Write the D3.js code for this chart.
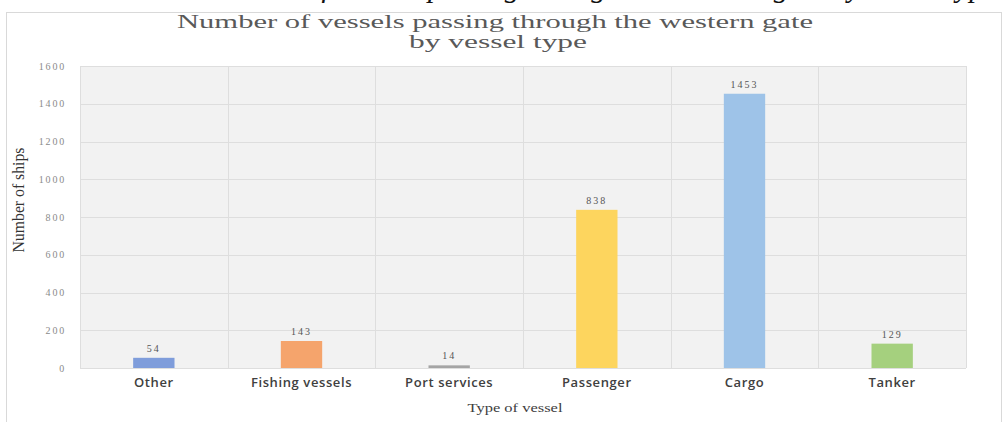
<!DOCTYPE html>
<html>
<head>
<meta charset="utf-8">
<script src="https://cdn.jsdelivr.net/npm/d3@7"></script>
<style>
  body { margin: 0; background: #fff; }
  svg { display: block; }
</style>
</head>
<body>
<div id="chart"></div>
<script>
// chart data
const vesselTypes = ["Other", "Fishing vessels", "Port services", "Passenger", "Cargo", "Tanker"];
const shipCounts = [54, 143, 14, 838, 1453, 129];
const barColors = ["#7f9ddb", "#f5a46c", "#a5a5a5", "#fdd55e", "#9ec3e8", "#a5d07e"];
const yTicks = [0, 200, 400, 600, 800, 1000, 1200, 1400, 1600];

const W = 1007, H = 422;
const plot = { left: 80, right: 966, top: 66, bottom: 368 };

const svg = d3.select("#chart").append("svg")
    .attr("width", W)
    .attr("height", H);

// page caption, mostly cut off at the top like in the scan
svg.append("text")
    .attr("x", 600)
    .attr("y", -3)
    .attr("text-anchor", "middle")
    .style("font-family", "'Liberation Serif', serif")
    .style("font-style", "italic")
    .style("font-size", "30px")
    .style("fill", "#111")
    .text("Number of vessels passing through the western gate by vessel type");

// outer frame
svg.append("rect")
    .attr("x", 6.5).attr("y", 12.5)
    .attr("width", 995).attr("height", 420)
    .attr("fill", "none")
    .attr("stroke", "#d9d9d9");

// scales
const x = d3.scaleBand()
    .domain(vesselTypes)
    .range([plot.left, plot.right])
    .padding(0);

const y = d3.scaleLinear()
    .domain([0, 1600])
    .range([plot.bottom, plot.top]);

// plot background
svg.append("rect")
    .attr("x", plot.left).attr("y", plot.top)
    .attr("width", plot.right - plot.left)
    .attr("height", plot.bottom - plot.top)
    .attr("fill", "#f2f2f2");

// horizontal gridlines
svg.append("g")
    .selectAll("line")
    .data(yTicks)
    .join("line")
    .attr("x1", plot.left).attr("x2", plot.right)
    .attr("y1", d => Math.round(y(d)) + 0.5)
    .attr("y2", d => Math.round(y(d)) + 0.5)
    .attr("stroke", "#dedede");

// vertical category separators
const edges = vesselTypes.map(d => x(d)).concat([plot.right]);
svg.append("g")
    .selectAll("line")
    .data(edges)
    .join("line")
    .attr("x1", d => Math.round(d) + 0.5).attr("x2", d => Math.round(d) + 0.5)
    .attr("y1", plot.top).attr("y2", plot.bottom)
    .attr("stroke", "#dedede");

// y axis labels
const yAxis = svg.append("g")
    .attr("transform", "translate(" + (plot.left - 14) + ",0)")
    .call(d3.axisLeft(y).tickValues(yTicks).tickFormat(d3.format("d")).tickSize(0).tickPadding(0));
yAxis.select(".domain").remove();
yAxis.selectAll("text")
    .style("font-family", "'Liberation Serif', serif")
    .style("font-size", "10px")
    .style("letter-spacing", "1.8px")
    .style("fill", "#8a8a8a");

// x axis labels
const xAxis = svg.append("g")
    .attr("transform", "translate(0," + plot.bottom + ")")
    .call(d3.axisBottom(x).tickSize(0).tickPadding(10));
xAxis.select(".domain").remove();
xAxis.selectAll("text")
    .style("font-family", "'Open Sans', sans-serif")
    .style("font-size", "13px")
    .style("font-weight", "600")
    .style("letter-spacing", "0.6px")
    .style("fill", "#404040");

// bars
const barW = x.bandwidth() * 0.28;
svg.append("g")
    .selectAll("rect")
    .data(vesselTypes)
    .join("rect")
    .attr("x", d => x(d) + (x.bandwidth() - barW) / 2)
    .attr("y", (d, i) => y(shipCounts[i]))
    .attr("width", barW)
    .attr("height", (d, i) => y(0) - y(shipCounts[i]))
    .attr("fill", (d, i) => barColors[i]);

// value labels
svg.append("g")
    .selectAll("text")
    .data(vesselTypes)
    .join("text")
    .attr("x", d => x(d) + x.bandwidth() / 2)
    .attr("y", (d, i) => y(shipCounts[i]) - 6)
    .attr("text-anchor", "middle")
    .style("font-family", "'Liberation Serif', serif")
    .style("font-size", "10px")
    .style("letter-spacing", "2px")
    .style("fill", "#555")
    .text((d, i) => shipCounts[i]);

// chart title (stretched wide in the source)
svg.append("text")
    .attr("x", 495).attr("y", 28)
    .attr("text-anchor", "middle")
    .attr("textLength", 636)
    .attr("lengthAdjust", "spacingAndGlyphs")
    .style("font-family", "'Liberation Serif', serif")
    .style("font-size", "18px")
    .style("fill", "#595959")
    .text("Number of vessels passing through the western gate");
svg.append("text")
    .attr("x", 498).attr("y", 48)
    .attr("text-anchor", "middle")
    .attr("textLength", 178)
    .attr("lengthAdjust", "spacingAndGlyphs")
    .style("font-family", "'Liberation Serif', serif")
    .style("font-size", "18px")
    .style("fill", "#595959")
    .text("by vessel type");

// axis titles
svg.append("text")
    .attr("x", 515)
    .attr("y", 412)
    .attr("text-anchor", "middle")
    .attr("textLength", 95)
    .attr("lengthAdjust", "spacingAndGlyphs")
    .style("font-family", "'Liberation Serif', serif")
    .style("font-size", "13px")
    .style("fill", "#404040")
    .text("Type of vessel");

svg.append("text")
    .attr("transform", "translate(24,200) rotate(-90)")
    .attr("text-anchor", "middle")
    .attr("textLength", 105)
    .attr("lengthAdjust", "spacingAndGlyphs")
    .style("font-family", "'Liberation Serif', serif")
    .style("font-size", "17px")
    .style("fill", "#333")
    .text("Number of ships");
</script>
</body>
</html>
